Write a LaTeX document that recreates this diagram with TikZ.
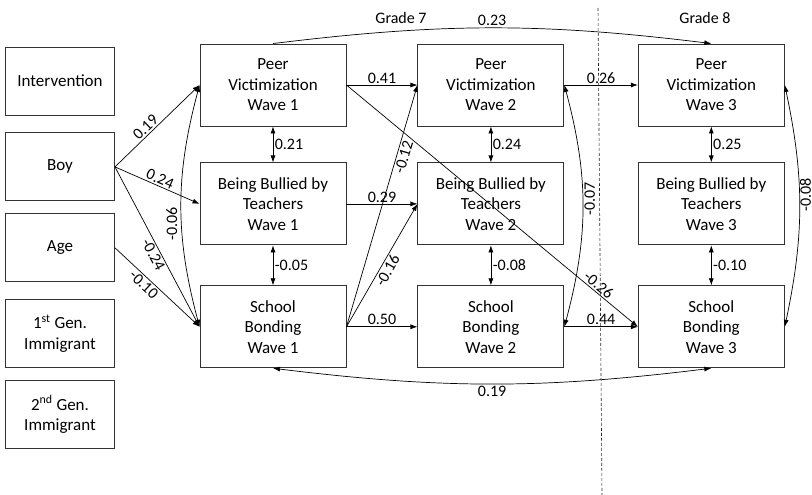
\documentclass[tikz,border=0pt]{standalone}
\usepackage{fontspec}
\setmainfont{Carlito}
\usetikzlibrary{arrows.meta,positioning}

\begin{document}
\begin{tikzpicture}[
      x=1pt, y=1pt,
      line width=.7pt,
      covar/.style = {
        draw=black!80, line width=.9pt, align=center, inner sep=2pt,
        minimum width=109pt, minimum height=68pt,
        font=\fontsize{17pt}{20.5pt}\selectfont,
      },
      wave/.style = {
        covar, minimum width=146pt, minimum height=82pt,
      },
      regress/.style = {
        black, -{Latex[length=7pt,width=5pt]},
      },
      covary/.style = {
        black, {Latex[length=7pt,width=5pt]}-{Latex[length=7pt,width=5pt]},
      },
      coef/.style = { font=\fontsize{16pt}{19pt}\selectfont, inner sep=1.5pt },
      grade/.style = { font=\fontsize{16pt}{19pt}\selectfont },
      cut/.style = { black!85, line width=.6pt, dash pattern=on 3pt off 2pt },
    ]
    \useasboundingbox (0,0) rectangle (812,-495);
    % covariates
    \node[covar] (Interv) at (60,-81) {Intervention};
    \node[covar,below=17pt of Interv] (Boy) {Boy};
    \node[covar,below=12pt of Boy] (Age) {Age};
    \node[covar,below=17pt of Age] (FirstGen) {1\textsuperscript{st} Gen.\\Immigrant};
    \node[covar,below=12pt of FirstGen] (SecondGen) {2\textsuperscript{nd} Gen.\\Immigrant};
    % waves
    \node[wave] (PV1) at (273,-85) {Peer\\Victimization\\Wave 1};
    \node[wave,below=36pt of PV1] (BBT1) {Being Bullied by\\Teachers\\Wave 1};
    \node[wave,below=40pt of BBT1] (SB1) {School\\Bonding\\Wave 1};
    \node[wave,right=71pt of PV1] (PV2) {Peer\\Victimization\\Wave 2};
    \node[wave,right=71pt of BBT1] (BBT2) {Being Bullied by\\Teachers\\Wave 2};
    \node[wave,right=71pt of SB1] (SB2) {School\\Bonding\\Wave 2};
    \node[wave,right=73.5pt of PV2] (PV3) {Peer\\Victimization\\Wave 3};
    \node[wave,right=73.5pt of BBT2] (BBT3) {Being Bullied by\\Teachers\\Wave 3};
    \node[wave,right=73.5pt of SB2] (SB3) {School\\Bonding\\Wave 3};
    \node[grade] (G7) at (401,-18) {Grade 7};
    \node[grade] (G8) at (705,-18) {Grade 8};
    % grade cut
    \coordinate (CutTop) at (598,-8);
    \coordinate (CutBot) at (602,-495);
    \draw[cut] (CutTop) -- (CutBot);
    % covariate paths
    \draw[regress] (Boy.east) -- node[coef,sloped,above,pos=.42] {0.19} (PV1.west);
    \draw[regress] (Boy.east) -- node[coef,sloped,above] {0.24} (BBT1.west);
    \draw[regress] (Boy.east) -- node[coef,sloped,below,pos=.53] {-0.24} (SB1.west);
    \draw[regress] (Age.east) -- node[coef,sloped,below,pos=.4] {-0.10} (SB1.west);
    \draw[covary] (PV1.west) to[bend right=15]
      node[coef,rotate=90,anchor=south,pos=.58,inner sep=4pt] {-0.06} (SB1.west);
    % within wave
    \draw[covary] (PV1.south) -- node[coef,right] {0.21} (BBT1.north);
    \draw[covary] (BBT1.south) -- node[coef,right] {-0.05} (SB1.north);
    \draw[covary] (PV2.south) -- node[coef,right] {0.24} (BBT2.north);
    \draw[covary] (BBT2.south) -- node[coef,right] {-0.08} (SB2.north);
    \draw[covary] (PV3.south) -- node[coef,right] {0.25} (BBT3.north);
    \draw[covary] (BBT3.south) -- node[coef,right] {-0.10} (SB3.north);
    % wave 1 to wave 2
    \draw[regress] (PV1.east) -- node[coef,above] {0.41} (PV2.west);
    \draw[regress] (BBT1.east) -- node[coef,above,inner sep=.5pt] {0.29} (BBT2.west);
    \draw[regress] (SB1.east) -- node[coef,above] {0.50} (SB2.west);
    \draw[regress] (SB1.east) -- node[coef,sloped,below,pos=.71] {-0.12} (PV2.west);
    \draw[regress] (SB1.east) -- node[coef,sloped,below,pos=.49] {-0.16} (BBT2.west);
    \draw[regress] (PV1.east) -- node[coef,sloped,above,pos=.85] {-0.26} (SB3.west);
    % wave 2 to wave 3
    \draw[regress] (PV2.east) -- node[coef,above] {0.26} (PV3.west);
    \draw[regress] (SB2.east) -- node[coef,above] {0.44} (SB3.west);
    \draw[covary] (PV2.east) to[bend left=15]
      node[coef,rotate=90,anchor=north,pos=.47] {-0.07} (SB2.east);
    \draw[covary] (PV3.east) to[bend left=12]
      node[coef,rotate=90,anchor=north,pos=.45,inner sep=.3pt] {-0.08} (SB3.east);
    % across grades
    \draw[regress] (PV1.north) to[bend left=7] node[coef,above] {0.23} (PV3.north);
    \draw[covary] (SB1.south) to[bend right=7] node[coef,below] {0.19} (SB3.south);
\end{tikzpicture}
\end{document}
